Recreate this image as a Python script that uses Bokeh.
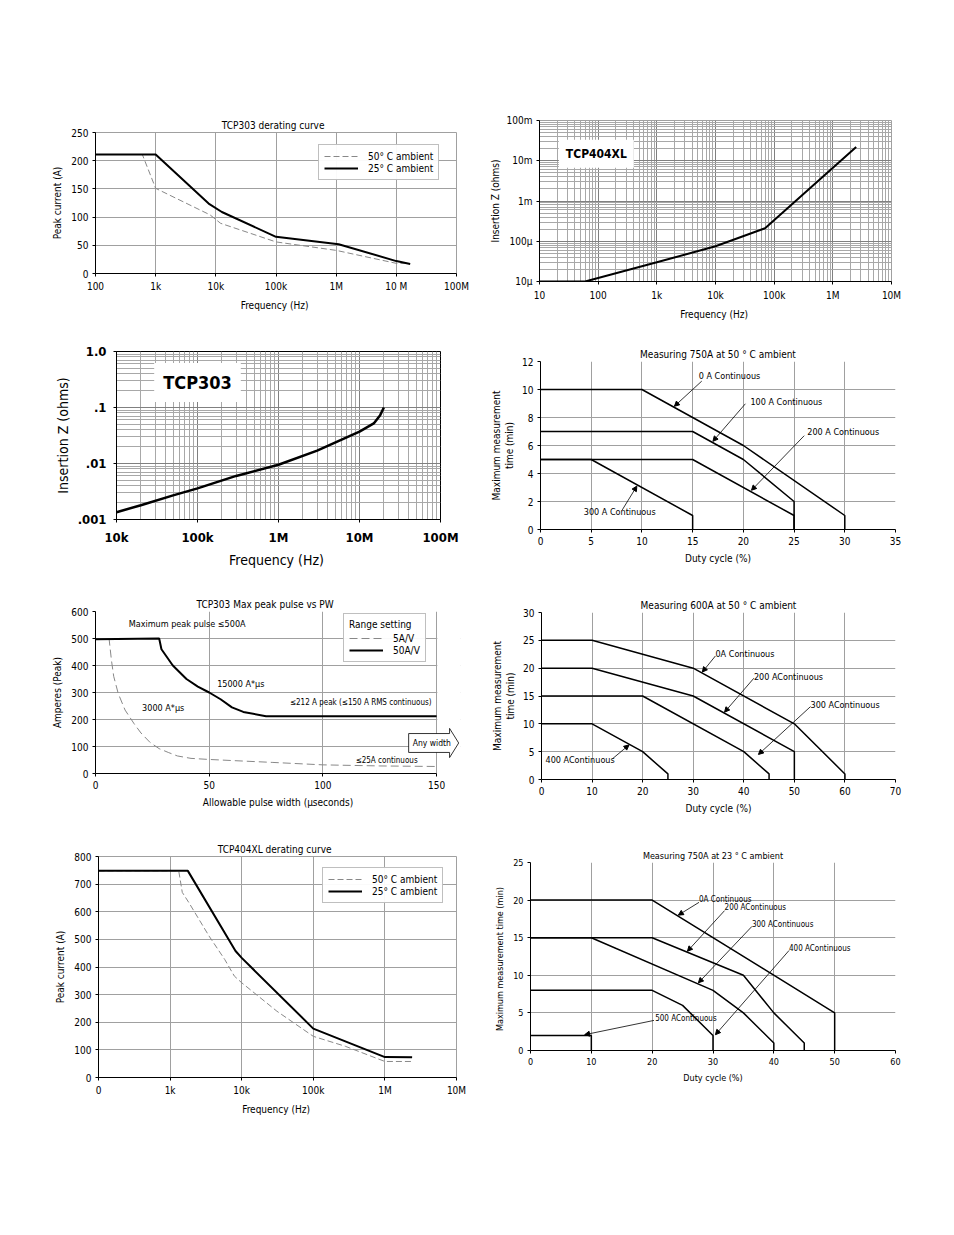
from bokeh.plotting import figure
from bokeh.models import (Legend, LegendItem, Label, Arrow, NormalHead, FixedTicker,
                          CustomJSTickFormatter, PolyAnnotation, Range1d)
from bokeh.layouts import row, column
from bokeh.embed import file_html
from bokeh.resources import INLINE

FONT = "Liberation Sans Narrow, DejaVu Sans Condensed, Liberation Sans, sans-serif"
GRID = "#a0a0a0"

# ---------------- data ----------------
# Chart 1: TCP303 derating curve
C1_F25 = [100, 1000, 7600, 12600, 1e5, 1.1e6, 1e7, 1.7e7]
C1_I25 = [211, 211, 124, 109, 65, 52, 22, 17]
C1_F50 = [100, 600, 1000, 8000, 12000, 1e5, 1e6, 1e7, 1.6e7]
C1_I50 = [211, 211, 151, 104, 89, 56, 41, 18, 18]
C1_YTICKS = [0, 50, 100, 150, 200, 250]
C1_XTICK_LABELS = ["100", "1k", "10k", "100k", "1M", "10 M", "100M"]
C1_SERIES = ["50° C ambient", "25° C ambient"]

# Chart 2: TCP404XL insertion impedance
C2_F = [10, 60, 1000, 1e4, 7e4, 2.5e6]
C2_Z = [1e-5, 1e-5, 3e-5, 7.5e-5, 2.1e-4, 2.2e-2]
C2_XTICK_LABELS = ["10", "100", "1k", "10k", "100k", "1M", "10M"]
C2_YTICK_LABELS = ["10µ", "100µ", "1m", "10m", "100m"]

# Chart 3: TCP303 insertion impedance
C3_F = [1e4, 2e4, 5e4, 1e5, 3e5, 1e6, 3e6, 1e7, 1.5e7, 1.8e7, 2e7]
C3_Z = [1.35e-3, 1.8e-3, 2.7e-3, 3.6e-3, 6e-3, 9.5e-3, 1.7e-2, 3.7e-2, 5.2e-2, 7.3e-2, 1.0e-1]
C3_XTICK_LABELS = ["10k", "100k", "1M", "10M", "100M"]
C3_YTICK_LABELS = [".001", ".01", ".1", "1.0"]

# Chart 4: Measuring 750A at 50 C ambient
C4_X = [[0, 10, 20, 30, 30], [0, 15, 20, 25, 25], [0, 15, 25, 25], [0, 5, 15, 15]]
C4_Y = [[10, 10, 6, 1, 0], [7, 7, 5, 2, 0], [5, 5, 1, 0], [5, 5, 1, 0]]
C4_NOTES = ["0 A Continuous", "100 A Continuous", "200 A Continuous", "300 A Continuous"]
C4_NOTE_XY = [(15.6, 10.93), (20.7, 9.1), (26.3, 6.95), (4.27, 1.24)]
C4_ARROWS = [(15.9, 10.6, 13.2, 8.8), (20.2, 8.98, 17.0, 6.3), (26.0, 6.7, 20.8, 2.8), (8.06, 1.4, 9.5, 3.1)]

# Chart 5: TCP303 max peak pulse vs PW
C5_X50 = [0, 28, 29, 34, 40, 45, 50, 55, 60, 65, 75, 150]
C5_Y50 = [497, 500, 460, 400, 350, 322, 300, 275, 245, 228, 212, 212]
C5_X5 = [0, 6, 7, 8, 10, 13, 17, 20, 24, 28, 32, 36, 42, 50, 60, 78, 100, 125, 150]
C5_Y5 = [497, 497, 420, 360, 296, 235, 184, 150, 115, 92, 78, 65, 56, 52, 48, 41, 32, 28, 26]
C5_SERIES = ["5A/V", "50A/V"]
C5_NOTES = ["Maximum peak pulse ≤500A", "15000 A*µs", "3000 A*µs",
            "≤212 A peak (≤150 A RMS continuous)", "≤25A continuous"]
C5_NOTE_XY = [(14.6, 555), (53.5, 332), (20.5, 243), (85.5, 264), (114.4, 48)]
C5_ANY_XS = [137.7, 155.7, 155.7, 159.7, 155.7, 155.7, 137.7]
C5_ANY_YS = [148, 148, 167, 113, 59, 78, 78]

# Chart 6: Measuring 600A at 50 C ambient
C6_X = [[0, 10, 30, 50, 60, 60], [0, 10, 30, 50, 50], [0, 20, 40, 45, 45], [0, 10, 20, 25, 25]]
C6_Y = [[25, 25, 20, 10, 1, 0], [20, 20, 15, 5, 0], [15, 15, 5, 1, 0], [10, 10, 5, 1, 0]]
C6_NOTES = ["0A Continuous", "200 AContinuous", "300 AContinuous", "400 AContinuous"]
C6_NOTE_XY = [(34.4, 22.6), (42, 18.5), (53.2, 13.4), (0.8, 3.5)]
C6_ARROWS = [(34.4, 22.2, 31.8, 19.3), (42, 18.2, 36.2, 12.1), (53.2, 13.1, 42.9, 4.5), (14, 3.7, 17.3, 6.2)]

# Chart 7: TCP404XL derating curve
C7_F25 = [100, 1770, 8200, 1e4, 1e5, 1e6, 2.4e6]
C7_I25 = [748, 748, 458, 433, 177, 74, 73]
C7_F50 = [100, 1320, 1480, 1830, 3500, 5800, 7900, 1e4, 3.1e4, 1e5, 2.8e5, 1e6, 2.4e6]
C7_I50 = [748, 748, 670, 633, 512, 427, 367, 343, 240, 149, 113, 58, 58]
C7_XTICK_LABELS = ["0", "1k", "10k", "100k", "1M", "10M"]
C7_YTICKS = [0, 100, 200, 300, 400, 500, 600, 700, 800]

# Chart 8: Measuring 750A at 23 C ambient
C8_X = [[0, 20, 50, 50], [0, 20, 35, 40, 45, 45], [0, 10, 30, 35, 40, 40], [0, 20, 25, 30, 30], [0, 10, 10]]
C8_Y = [[20, 20, 5, 0], [15, 15, 10, 5, 1, 0], [15, 15, 8, 5, 1, 0], [8, 8, 6, 2, 0], [2, 2, 0]]
C8_NOTES = ["0A Continuous", "200 AContinuous", "300 AContinuous", "400 AContinuous", "500 AContinuous"]
C8_NOTE_XY = [(27.7, 20.1), (31.9, 18.95), (36.4, 16.7), (42.5, 13.5), (20.5, 4.2)]
C8_ARROWS = [(27.7, 19.7, 24.3, 18.0), (31.9, 18.6, 25.8, 13.2), (36.4, 16.5, 27.6, 9.0),
             (42.5, 13.3, 30.4, 2.1), (20.3, 4.0, 8.9, 2.1)]


# ---------------- helpers ----------------
def make_fig(w, h, l, r, t, b, xr, yr, xt="linear", yt="linear", title=None, fs="10px"):
    p = figure(width=w, height=h, x_range=Range1d(*xr), y_range=Range1d(*yr),
               x_axis_type=xt, y_axis_type=yt, output_backend="svg", toolbar_location=None,
               min_border_left=l, min_border_right=r, min_border_top=t, min_border_bottom=b,
               title=title)
    p.frame_align = False
    p.background_fill_color = "white"
    p.border_fill_color = "white"
    p.outline_line_color = GRID
    for ax in p.axis:
        ax.axis_line_color = "black"
        ax.major_tick_line_color = "black"
        ax.major_tick_in = 0
        ax.major_tick_out = 3
        ax.minor_tick_line_color = None
        ax.major_label_text_font = FONT
        ax.major_label_text_font_size = fs
        ax.major_label_text_color = "black"
        ax.axis_label_text_font = FONT
        ax.axis_label_text_font_size = fs
        ax.axis_label_text_font_style = "normal"
        ax.axis_label_text_color = "black"
        ax.major_label_standoff = 4
        ax.axis_label_standoff = 5
    p.grid.grid_line_color = GRID
    if title:
        p.title.text_font = FONT
        p.title.text_font_size = fs
        p.title.text_font_style = "normal"
        p.title.text_color = "black"
        p.title.align = "center"
        p.title.standoff = 4
    return p


def log_fmt(labels, lo):
    return CustomJSTickFormatter(args=dict(labels=labels, lo=lo),
                                 code="const k = Math.round(Math.log10(tick)) - lo;"
                                      "return (k >= 0 && k < labels.length) ? labels[k] : '';")


def decades(lo, hi):
    return [10.0 ** e for e in range(lo, hi + 1)]


def minors(lo, hi):
    return [m * 10.0 ** e for e in range(lo, hi) for m in range(2, 10)]


def make_legend(p, items, loc, title=None):
    lg = Legend(items=items, location=loc)
    lg.border_line_color = "#808080"
    lg.background_fill_color = "white"
    lg.label_text_font = FONT
    lg.label_text_font_size = "10px"
    lg.label_text_color = "black"
    lg.glyph_width = 34
    lg.glyph_height = 12
    lg.label_height = 12
    lg.spacing = 0
    lg.padding = 5
    lg.margin = 0
    lg.label_standoff = 10
    if title:
        lg.title = title
        lg.title_text_font = FONT
        lg.title_text_font_size = "10px"
        lg.title_text_font_style = "normal"
        lg.title_text_color = "black"
        lg.title_standoff = 2
    p.add_layout(lg)


def add_notes(p, notes, pos, arrows=None, fs="9px"):
    for txt, (x, y) in zip(notes, pos):
        p.add_layout(Label(x=x, y=y, text=txt, text_font=FONT, text_font_size=fs,
                           text_baseline="middle", text_align="left", text_color="black"))
    if arrows:
        for (x0, y0, x1, y1) in arrows:
            p.add_layout(Arrow(x_start=x0, y_start=y0, x_end=x1, y_end=y1, line_width=0.8,
                               line_color="black",
                               end=NormalHead(size=5, fill_color="black", line_color="black")))


# ---------------- chart 1 ----------------
p1 = make_fig(486, 325, 95, 30, 132, 52, (100, 1e8), (0, 250), xt="log",
              title="TCP303  derating  curve")
p1.xaxis.ticker = FixedTicker(ticks=decades(2, 8))
p1.xaxis.formatter = log_fmt(C1_XTICK_LABELS, 2)
p1.yaxis.ticker = FixedTicker(ticks=C1_YTICKS)
p1.xaxis.axis_label = "Frequency  (Hz)"
p1.yaxis.axis_label = "Peak current (A)"
r1a = p1.line(C1_F50, C1_I50, line_color="#888888", line_width=1, line_dash="6 3")
r1b = p1.line(C1_F25, C1_I25, line_color="black", line_width=2)
make_legend(p1, [LegendItem(label=C1_SERIES[0], renderers=[r1a]),
                 LegendItem(label=C1_SERIES[1], renderers=[r1b])], (223, 93))

# ---------------- chart 2 ----------------
p2 = make_fig(460, 325, 52, 55, 120, 44, (10, 1e7), (1e-5, 1e-1), xt="log", yt="log")
p2.xaxis.ticker = FixedTicker(ticks=decades(1, 7), minor_ticks=minors(1, 7))
p2.yaxis.ticker = FixedTicker(ticks=decades(-5, -1), minor_ticks=minors(-5, -1))
p2.xaxis.formatter = log_fmt(C2_XTICK_LABELS, 1)
p2.yaxis.formatter = log_fmt(C2_YTICK_LABELS, -5)
p2.yaxis.major_label_standoff = 3
p2.yaxis.axis_label_standoff = 3
p2.xaxis.axis_label = "Frequency  (Hz)"
p2.yaxis.axis_label = "Insertion Z (ohms)"
p2.grid.grid_line_color = "#808080"
p2.grid.minor_grid_line_color = "#a8a8a8"
p2.line(C2_F, C2_Z, line_color="black", line_width=2)
p2.add_layout(Label(x=93, y=1.5e-2, text="TCP404XL", text_font=FONT, text_font_size="12px",
                    text_font_style="bold", text_align="center", text_baseline="middle",
                    text_color="black", background_fill_color="white", padding=7))

# ---------------- chart 3 ----------------
p3 = make_fig(486, 250, 116, 46, 26, 56, (1e4, 1e8), (1e-3, 1.0), xt="log", yt="log", fs="13px")
p3.xaxis.ticker = FixedTicker(ticks=decades(4, 8), minor_ticks=minors(4, 8))
p3.yaxis.ticker = FixedTicker(ticks=decades(-3, 0), minor_ticks=minors(-3, 0))
p3.xaxis.formatter = log_fmt(C3_XTICK_LABELS, 4)
p3.yaxis.formatter = log_fmt(C3_YTICK_LABELS, -3)
for ax in p3.axis:
    ax.major_label_text_font_style = "bold"
    ax.axis_label_text_font_size = "14px"
    ax.major_label_standoff = 6
    ax.axis_label_standoff = 4
p3.xaxis.axis_label = "Frequency  (Hz)"
p3.yaxis.axis_label = "Insertion Z (ohms)"
p3.grid.grid_line_color = "#808080"
p3.grid.minor_grid_line_color = "#a8a8a8"
p3.outline_line_color = "black"
p3.line(C3_F, C3_Z, line_color="black", line_width=2.5)
p3.add_layout(Label(x=1e5, y=0.28, text="TCP303", text_font=FONT, text_font_size="18px",
                    text_font_style="bold", text_align="center", text_baseline="middle",
                    text_color="black", background_fill_color="white", padding=9))

# ---------------- chart 4 ----------------
p4 = make_fig(460, 250, 54, 51, 36, 46, (0, 35), (0, 12),
              title="Measuring 750A at 50 ° C ambient")
p4.xaxis.ticker = FixedTicker(ticks=list(range(0, 36, 5)))
p4.yaxis.ticker = FixedTicker(ticks=list(range(0, 13, 2)))
p4.yaxis.axis_label_standoff = 4
p4.xaxis.axis_label = "Duty cycle (%)"
p4.yaxis.axis_label = "Maximum measurement\ntime (min)"
p4.outline_line_color = None
for xs, ys in zip(C4_X, C4_Y):
    p4.line(xs, ys, line_color="black", line_width=1.5)
add_notes(p4, C4_NOTES, C4_NOTE_XY, C4_ARROWS)

# ---------------- chart 5 ----------------
p5 = make_fig(486, 250, 95, 26, 36, 52, (0, 160.5), (0, 600),
              title="TCP303 Max peak pulse vs PW")
p5.title.align = "left"
p5.title.offset = 101
p5.xaxis.ticker = FixedTicker(ticks=[0, 50, 100, 150])
p5.yaxis.ticker = FixedTicker(ticks=list(range(0, 601, 100)))
p5.xaxis.bounds = (0, 150)
p5.xaxis.axis_label = "Allowable pulse width (µseconds)"
p5.yaxis.axis_label = "Amperes (Peak)"
p5.outline_line_color = None
p5.quad(left=[150.3], right=[161], bottom=[-5], top=[605], fill_color="white",
        line_color=None)
r5a = p5.line(C5_X5, C5_Y5, line_color="#888888", line_width=1, line_dash="8 4")
r5b = p5.line(C5_X50, C5_Y50, line_color="black", line_width=2)
make_legend(p5, [LegendItem(label=C5_SERIES[0], renderers=[r5a]),
                 LegendItem(label=C5_SERIES[1], renderers=[r5b])], (248, 111), title="Range setting")
add_notes(p5, C5_NOTES[:3], C5_NOTE_XY[:3])
add_notes(p5, C5_NOTES[3:], C5_NOTE_XY[3:], fs="8px")
p5.add_layout(PolyAnnotation(xs=C5_ANY_XS, ys=C5_ANY_YS, fill_color="white", fill_alpha=1,
                             line_color="black", line_alpha=1, line_width=0.8))
p5.add_layout(Label(x=139.5, y=113, text="Any  width", text_font=FONT, text_font_size="8.5px",
                    text_baseline="middle", text_align="left", text_color="black"))

# ---------------- chart 6 ----------------
p6 = make_fig(460, 250, 55, 51, 37, 46, (0, 70), (0, 30),
              title="Measuring 600A at 50 ° C ambient")
p6.xaxis.ticker = FixedTicker(ticks=list(range(0, 71, 10)))
p6.yaxis.ticker = FixedTicker(ticks=list(range(0, 31, 5)))
p6.yaxis.axis_label_standoff = 4
p6.xaxis.axis_label = "Duty cycle (%)"
p6.yaxis.axis_label = "Maximum measurement\ntime (min)"
p6.outline_line_color = None
for xs, ys in zip(C6_X, C6_Y):
    p6.line(xs, ys, line_color="black", line_width=1.5)
add_notes(p6, C6_NOTES, C6_NOTE_XY, C6_ARROWS)

# ---------------- chart 7 ----------------
p7 = make_fig(486, 305, 98, 30, 31, 53, (100, 1e7), (0, 800), xt="log",
              title="TCP404XL  derating  curve")
p7.xaxis.ticker = FixedTicker(ticks=decades(2, 7))
p7.xaxis.formatter = log_fmt(C7_XTICK_LABELS, 2)
p7.yaxis.ticker = FixedTicker(ticks=C7_YTICKS)
p7.xaxis.axis_label = "Frequency  (Hz)"
p7.yaxis.axis_label = "Peak current (A)"
r7a = p7.line(C7_F50, C7_I50, line_color="#888888", line_width=1, line_dash="6 3")
r7b = p7.line(C7_F25, C7_I25, line_color="black", line_width=2)
make_legend(p7, [LegendItem(label=C1_SERIES[0], renderers=[r7a]),
                 LegendItem(label=C1_SERIES[1], renderers=[r7b])], (224, 174))

# ---------------- chart 8 ----------------
p8 = make_fig(460, 305, 44, 51, 37, 80, (0, 60), (0, 25),
              title="Measuring 750A at 23 ° C ambient", fs="9px")
p8.xaxis.ticker = FixedTicker(ticks=list(range(0, 61, 10)))
p8.yaxis.ticker = FixedTicker(ticks=list(range(0, 26, 5)))
p8.xaxis.axis_label = "Duty cycle (%)"
p8.yaxis.axis_label = "Maximum measurement   time (min)"
p8.outline_line_color = None
for xs, ys in zip(C8_X, C8_Y):
    p8.line(xs, ys, line_color="black", line_width=1.5)
add_notes(p8, C8_NOTES, C8_NOTE_XY, C8_ARROWS, fs="8px")

layout = column(row(p1, p2), row(p3, p4), row(p5, p6), row(p7, p8))
open("out.html", "w").write(file_html(layout, INLINE))
